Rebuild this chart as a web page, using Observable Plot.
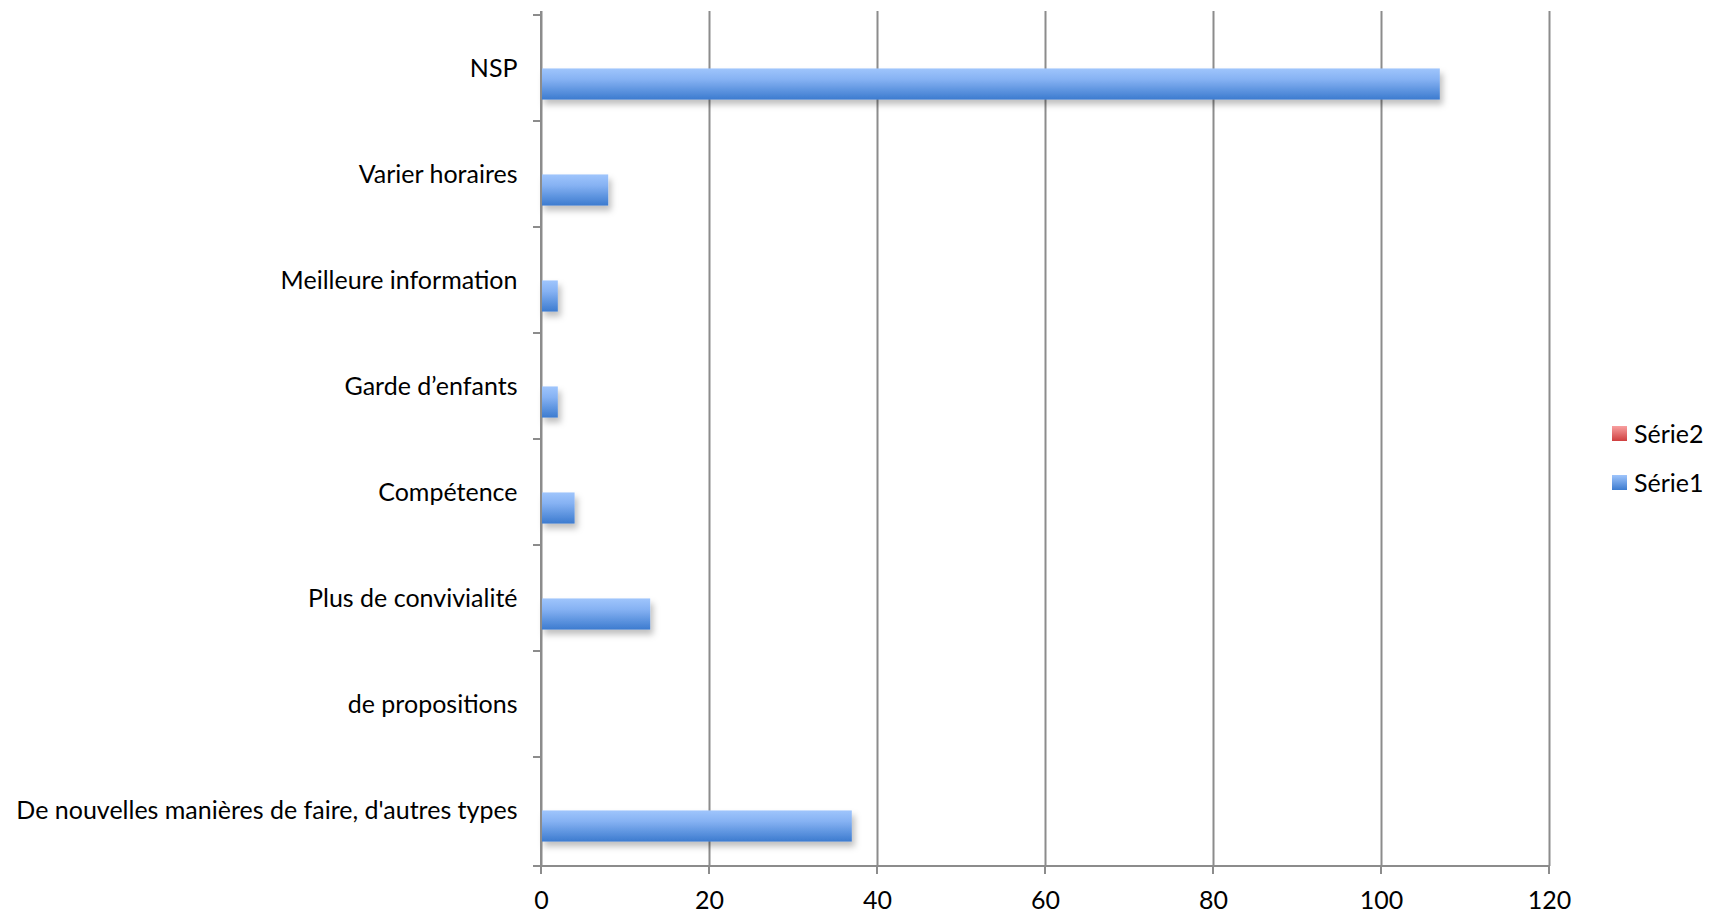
<!DOCTYPE html>
<html><head><meta charset="utf-8">
<script src="https://cdn.jsdelivr.net/npm/d3@7"></script>
<script src="https://cdn.jsdelivr.net/npm/@observablehq/plot@0.6"></script>
<style>
body{margin:0;background:#fff;font-family:Lato,sans-serif;}
#wrap{position:relative;width:1711px;height:915px;background:#fff;}
.leg{position:absolute;left:1612px;font-size:25px;line-height:28px;color:#000;display:flex;align-items:center;font-family:Lato,sans-serif;}
.sw{width:15px;height:15px;margin-right:7px;}
</style></head><body><div id="wrap"></div>
<script>
const categories = ["De nouvelles manières de faire, d'autres types","de propositions","Plus de convivialité","Compétence","Garde d’enfants","Meilleure information","Varier horaires","NSP"];
const serie1 = [37,0,13,4,2,2,8,107];
const serie2 = [0,0,0,0,0,0,0,0];
const xTicks = [0,20,40,60,80,100,120];
const seriesNames = ["Série2","Série1"];

const rows1 = categories.map((c,i)=>({cat:c, value:serie1[i]}));
const rows2 = categories.map((c,i)=>({cat:c, value:serie2[i]}));
const domainY = categories.slice().reverse();

const W=1711,H=915,mL=541,mR=162,mT=11,mB=49;
const step=(H-mT-mB)/categories.length;
const barH=32;
const off=0;

const plot = Plot.plot({
  width:W, height:H,
  marginLeft:mL, marginRight:mR, marginTop:mT, marginBottom:mB,
  style:{fontFamily:"Lato, sans-serif", fontSize:"25px", color:"#000", background:"#fff"},
  x:{domain:[0,120], ticks:xTicks, tickSize:0, tickPadding:25, label:null},
  y:{domain:domainY, padding:0, tickSize:0, tickPadding:24, label:null},
  marks:[
    Plot.ruleX(xTicks,{x:d=>d, stroke:"#8c8c8c", strokeWidth:2}),
    Plot.barX(rows2,{y:"cat", x1:0, x2:"value", fill:"url(#gRed)", insetTop:step/2-off-barH, insetBottom:step/2+off}),
    Plot.barX(rows1,{y:"cat", x1:0, x2:"value", fill:"url(#gBlue)", insetTop:step/2-off, insetBottom:step/2+off-barH})
  ]
});

const svg = d3.select(plot);
const defs = svg.insert("defs",":first-child");
const gb = defs.append("linearGradient").attr("id","gBlue").attr("x1",0).attr("y1",0).attr("x2",0).attr("y2",1);
gb.append("stop").attr("offset","0%").attr("stop-color","#9fc5fc");
gb.append("stop").attr("offset","35%").attr("stop-color","#86b2f3");
gb.append("stop").attr("offset","100%").attr("stop-color","#3c7bcf");
const gr = defs.append("linearGradient").attr("id","gRed").attr("x1",0).attr("y1",0).attr("x2",0).attr("y2",1);
gr.append("stop").attr("offset","0%").attr("stop-color","#f8a0a0");
gr.append("stop").attr("offset","100%").attr("stop-color","#cf3e3e");
const f = defs.append("filter").attr("id","shadow").attr("x","-5%").attr("y","-30%").attr("width","115%").attr("height","180%");
f.append("feDropShadow").attr("dx",3).attr("dy",5).attr("stdDeviation",3).attr("flood-color","#000").attr("flood-opacity",0.25);
svg.selectAll("g[aria-label=bar]").attr("filter","url(#shadow)");

const xs = plot.scale("x"), ys = plot.scale("y");
const x0 = xs.apply(0), x1 = xs.apply(120);
const yTop = mT, yBot = H-mB;
const deco = svg.append("g").attr("stroke","#8c8c8c").attr("stroke-width",2);
deco.append("line").attr("x1",x0).attr("x2",x0).attr("y1",yTop).attr("y2",yBot);
deco.append("line").attr("x1",x0).attr("x2",x1).attr("y1",yBot).attr("y2",yBot);
domainY.forEach(c=>{
  const yy = ys.apply(c);
  deco.append("line").attr("x1",x0-8).attr("x2",x0).attr("y1",yy).attr("y2",yy);
});
deco.append("line").attr("x1",x0-8).attr("x2",x0).attr("y1",yBot).attr("y2",yBot);
xTicks.forEach(t=>{
  const xx = xs.apply(t);
  deco.append("line").attr("x1",xx).attr("x2",xx).attr("y1",yBot).attr("y2",yBot+8);
});

const wrap = document.getElementById("wrap");
wrap.appendChild(plot);
const legColors = {"Série2":"linear-gradient(#f8a0a0,#cf3e3e)","Série1":"linear-gradient(#9fc5fc,#3c7bcf)"};
const legTops = [419,468];
seriesNames.forEach((n,i)=>{
  const d = document.createElement("div");
  d.className="leg"; d.style.top=legTops[i]+"px";
  const s = document.createElement("span"); s.className="sw"; s.style.background=legColors[n];
  d.appendChild(s); d.appendChild(document.createTextNode(n));
  wrap.appendChild(d);
});
</script></body></html>
